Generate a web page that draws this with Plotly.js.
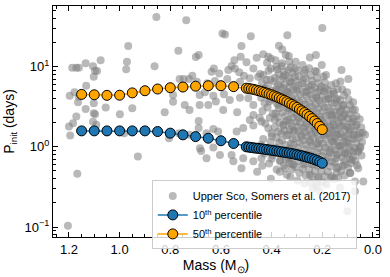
<!DOCTYPE html>
<html>
<head>
<meta charset="utf-8">
<script src="https://cdn.plot.ly/plotly-3.0.1.min.js"></script>
<style>html,body{margin:0;padding:0;background:#fff;}#chart{width:390px;height:277px;}</style>
</head>
<body>
<div id="chart"></div>
<script>
// Upper Sco sample (Somers et al. 2017): mass (Msun), initial period (days) — sparse part
const scoMass = [
0.855,0.737,0.966,0.768,1.075,0.971,0.688,0.699,1.134,1.187,1.171,1.161,1.105,1.097,1.089,0.862,0.974,1.102,1.132,1.197,
1.178,1.161,1.164,1.102,1.055,1.134,1.102,1.097,0.999,0.95,0.822,0.763,0.747,0.726,0.713,0.695,0.789,0.789,0.743,0.684,
0.684,0.724,1.171,1.184,1.2,1.195,1.105,1.092,0.982,0.805,0.803,0.766,0.724,0.688,0.688,0.678,0.928,1.167,1.204,
0.594,0.584,0.482,0.338,0.519,0.371,0.358,0.433,0.459,0.413,0.403,0.522,0.547,0.499,0.558,0.344,0.330,0.628,0.637,0.607,
0.571,0.545,0.528,0.472,0.403,0.380,0.361,0.334,0.509,0.486,0.575,0.624,0.654,0.604,0.551,0.525,0.453,0.433,0.420,0.387,
0.354,0.328,0.367,0.387,0.338,0.427,0.663,0.630,0.588,0.565,0.525,0.620,0.591,0.650,0.536,0.492,0.472,0.409,0.374,0.347,
0.328,0.387,0.472,0.486,0.440,0.472,0.512,0.538,0.334,0.354,0.328,0.630,0.657,0.611,0.400,0.361,0.683,0.630,0.604,0.558,
0.657,0.512,0.472,0.440,0.400,0.367,0.334,0.321,0.347,0.367,0.457,0.403,0.519,0.551,
0.200,0.249,0.225,0.124,0.097,0.185,0.222,0.268,0.308,0.189,0.156,0.176,0.143,0.117,0.080,0.130,0.163,0.117,0.078,0.156,
0.130,0.097,0.064,0.051,0.031,0.078,0.110,0.143,0.170,0.156,0.130,0.097,0.051,0.078,0.110,0.143,0.170,0.084,0.058,0.110,
0.143,0.163,0.137,0.091,0.038,0.071,0.130,0.183,0.222,0.216,0.071,0.101,0.249,
0.308,0.275,0.242,0.209,0.301,0.262,0.222,0.314,0.288,0.249,0.209,0.301,0.268,0.229,0.196,0.314,0.281,0.249,0.216,0.314,
0.196,0.235,0.275,0.314
];
const scoPeriod = [
41.6,37.8,18.0,15.7,12.0,11.5,13.9,13.2,11.0,9.66,9.66,9.66,10.1,8.87,8.8,10.1,9.23,7.47,5.78,4.34,
4.78,4.21,3.59,3.49,3.08,2.96,2.62,2.55,2.55,3.03,2.70,7.0,7.0,7.0,7.69,6.47,4.43,3.65,3.32,4.43,
3.32,2.88,2.38,1.97,1.79,1.38,2.06,1.88,1.48,1.28,1.41,1.48,1.41,2.10,1.71,0.89,0.76,0.46,0.104,
25.8,25.1,23.9,24.6,18.0,18.2,16.3,14.2,12.9,13.3,12.6,13.3,12.0,11.3,10.2,13.9,11.5,9.49,8.63,8.22,
9.05,9.49,8.47,9.49,9.49,9.95,10.2,9.05,7.69,7.13,7.0,6.61,6.18,6.01,5.89,6.49,7.48,7.84,6.79,7.26,
7.48,6.49,5.62,4.87,4.78,5.36,4.78,4.34,4.51,3.84,4.10,3.66,2.88,3.33,2.70,4.03,3.33,3.66,3.33,3.66,
3.02,2.16,2.50,2.16,2.07,1.84,1.71,1.55,2.16,1.88,1.63,1.67,1.48,1.55,1.48,1.48,0.96,0.98,0.79,0.79,
0.72,0.72,0.66,0.72,0.71,0.66,0.72,0.61,0.54,0.49,0.49,0.40,0.54,0.66,
30.3,13.0,13.9,9.05,7.0,7.84,8.63,9.05,9.49,5.36,4.86,4.03,3.84,3.33,2.88,2.75,2.50,2.38,2.27,1.88,
1.79,1.71,1.88,1.48,1.41,1.41,1.34,1.41,1.48,1.16,1.01,1.11,0.96,0.87,0.83,0.79,0.87,0.69,0.54,0.60,
0.54,0.43,0.41,0.47,0.37,0.37,0.31,0.34,0.32,0.41,0.28,0.157,0.45,
7.48,6.79,5.89,5.10,5.36,4.87,4.03,3.66,3.02,2.50,2.16,2.07,1.79,1.63,1.48,1.55,1.34,1.22,1.11,1.06,
0.66,0.60,0.60,0.60
];
// Upper Sco sample — dense low-mass cloud, [mass, period]
const scoDense = [
[0.445,8.1],[0.438,6.3],[0.432,5.2],[0.441,4.1],[0.428,3.5],[0.436,2.8],[0.447,2.3],[0.425,1.95],[0.433,1.25],[0.442,1.05],[0.429,0.82],[0.437,0.58],
[0.418,11.2],[0.412,8.9],[0.405,6.9],[0.415,5.8],[0.398,5.0],[0.409,4.3],[0.402,3.9],[0.416,3.1],[0.395,2.6],[0.407,2.3],[0.413,1.7],[0.399,1.35],[0.404,1.15],[0.417,0.93],[0.396,0.78],[0.41,0.62],
[0.385,12.0],[0.378,9.2],[0.372,8.0],[0.389,6.5],[0.375,5.9],[0.382,5.2],[0.369,4.6],[0.386,4.0],[0.379,3.5],[0.371,3.0],[0.384,2.6],[0.376,2.35],[0.368,2.0],[0.387,1.75],[0.373,1.55],[0.381,1.3],[0.37,1.12],[0.383,0.98],[0.374,0.85],[0.366,0.68],[0.38,0.52],
[0.358,11.0],[0.352,8.7],[0.346,7.8],[0.36,6.9],[0.349,6.0],[0.355,5.4],[0.342,4.9],[0.357,4.4],[0.345,3.9],[0.351,3.4],[0.34,3.05],[0.356,2.7],[0.347,2.4],[0.343,2.1],[0.354,1.85],[0.348,1.6],[0.341,1.38],[0.359,1.2],[0.344,1.05],[0.35,0.9],[0.357,0.8],[0.343,0.7],[0.352,0.58],[0.34,0.45],
[0.332,13.5],[0.325,9.8],[0.318,8.3],[0.333,7.2],[0.322,6.3],[0.328,5.6],[0.315,5.1],[0.33,4.6],[0.319,4.1],[0.326,3.7],[0.313,3.3],[0.331,2.9],[0.321,2.6],[0.316,2.3],[0.327,2.0],[0.32,1.8],[0.312,1.6],[0.334,1.4],[0.317,1.25],[0.324,1.1],[0.329,0.95],[0.314,0.85],[0.323,0.74],[0.33,0.63],[0.318,0.52],[0.326,0.42],
[0.305,11.5],[0.298,9.0],[0.292,7.6],[0.306,6.6],[0.295,5.8],[0.301,5.0],[0.288,4.5],[0.303,4.0],[0.291,3.6],[0.297,3.2],[0.285,2.85],[0.302,2.55],[0.294,2.3],[0.289,2.0],[0.299,1.78],[0.293,1.58],[0.286,1.42],[0.304,1.28],[0.29,1.12],[0.296,0.98],[0.3,0.86],[0.287,0.76],[0.295,0.66],[0.305,0.56],[0.29,0.47],[0.298,0.38],
[0.278,10.5],[0.272,8.4],[0.265,7.1],[0.28,6.2],[0.268,5.5],[0.275,4.8],[0.262,4.3],[0.277,3.8],[0.266,3.4],[0.271,3.0],[0.26,2.7],[0.279,2.45],[0.269,2.2],[0.263,1.95],[0.274,1.72],[0.267,1.52],[0.261,1.36],[0.276,1.2],[0.264,1.06],[0.27,0.93],[0.273,0.82],[0.262,0.71],[0.268,0.62],[0.277,0.53],[0.265,0.44],[0.271,0.35],
[0.252,9.5],[0.246,7.8],[0.24,6.6],[0.254,5.7],[0.243,5.1],[0.249,4.5],[0.237,4.0],[0.251,3.55],[0.241,3.15],[0.247,2.8],[0.235,2.5],[0.253,2.28],[0.244,2.05],[0.238,1.82],[0.25,1.62],[0.242,1.45],[0.236,1.3],[0.248,1.15],[0.239,1.02],[0.245,0.9],[0.25,0.8],[0.237,0.7],[0.243,0.61],[0.252,0.52],[0.24,0.43],[0.246,0.36],[0.238,0.3],
[0.228,8.8],[0.221,7.2],[0.215,6.2],[0.229,5.4],[0.218,4.8],[0.224,4.2],[0.212,3.75],[0.226,3.35],[0.216,3.0],[0.222,2.65],[0.21,2.38],[0.227,2.15],[0.219,1.92],[0.213,1.72],[0.225,1.52],[0.217,1.36],[0.211,1.22],[0.223,1.08],[0.214,0.96],[0.22,0.85],[0.226,0.76],[0.212,0.67],[0.218,0.58],[0.228,0.5],[0.215,0.42],[0.222,0.35],[0.21,0.28],
[0.202,10.5],[0.195,7.5],[0.19,6.4],[0.204,5.6],[0.193,4.9],[0.199,4.3],[0.187,3.85],[0.201,3.45],[0.191,3.1],[0.197,2.75],[0.185,2.45],[0.203,2.2],[0.194,1.98],[0.188,1.76],[0.2,1.56],[0.192,1.4],[0.186,1.25],[0.198,1.1],[0.189,0.98],[0.196,0.87],[0.2,0.77],[0.187,0.68],[0.193,0.59],[0.203,0.5],[0.19,0.43],[0.197,0.36],
[0.165,5.9],[0.179,5.1],[0.168,4.5],[0.174,3.95],[0.162,3.5],[0.176,3.1],[0.166,2.8],[0.172,2.5],[0.16,2.25],[0.177,2.02],[0.169,1.82],[0.163,1.62],[0.175,1.45],[0.167,1.3],[0.161,1.17],[0.173,1.04],[0.164,0.93],[0.17,0.83],[0.176,0.74],[0.162,0.65],[0.168,0.57],[0.178,0.49],[0.165,0.41],
[0.146,6.2],[0.14,5.2],[0.154,4.6],[0.143,4.0],[0.149,3.5],[0.137,3.1],[0.151,2.75],[0.141,2.45],[0.147,2.2],[0.135,1.98],[0.153,1.78],[0.144,1.6],[0.138,1.43],[0.15,1.28],[0.142,1.14],[0.136,1.02],[0.148,0.91],[0.139,0.81],[0.145,0.72],[0.151,0.64],[0.137,0.56],[0.143,0.48],[0.153,0.4],
[0.128,6.5],[0.121,5.2],[0.115,4.4],[0.129,3.8],[0.118,3.3],[0.124,2.9],[0.112,2.55],[0.126,2.3],[0.116,2.05],[0.122,1.83],[0.11,1.63],[0.127,1.46],[0.119,1.3],[0.113,1.17],[0.125,1.04],[0.117,0.93],[0.111,0.83],[0.123,0.74],[0.114,0.66],[0.12,0.58],[0.126,0.5],[0.112,0.44],
[0.102,4.8],[0.096,3.9],[0.09,3.3],[0.104,2.9],[0.093,2.55],[0.099,2.25],[0.087,2.0],[0.101,1.78],[0.091,1.6],[0.097,1.42],[0.085,1.27],[0.103,1.13],[0.094,1.0],[0.088,0.9],[0.1,0.8],[0.092,0.71],[0.086,0.63],[0.098,0.55],[0.089,0.47],
[0.078,3.6],[0.071,2.9],[0.065,2.4],[0.079,2.05],[0.068,1.8],[0.074,1.58],[0.062,1.4],[0.076,1.25],[0.066,1.1],[0.072,0.97],[0.06,0.86],[0.077,0.76],[0.069,0.67],[0.063,0.59],
[0.052,2.2],[0.046,1.75],[0.04,1.5],[0.055,1.3],[0.043,1.15],[0.049,1.0],[0.057,0.9],[0.045,0.78]
];

// Model percentiles
const pctMass = [1.15,1.10,1.05,1.00,0.95,0.90,0.85,0.80,0.75,0.70,0.65,0.60,0.55,
0.50,0.49,0.48,0.47,0.46,0.45,0.44,0.43,0.42,0.41,0.40,0.39,0.38,0.37,0.36,0.35,0.34,0.33,0.32,0.31,0.30,
0.29,0.28,0.27,0.26,0.25,0.24,0.23,0.22,0.21,0.20];
const p10 = [1.58,1.58,1.58,1.58,1.58,1.58,1.55,1.48,1.41,1.34,1.28,1.19,1.10,
1.00,0.99,0.98,0.97,0.96,0.955,0.945,0.935,0.925,0.915,0.905,0.895,0.885,0.875,0.865,0.855,0.845,0.835,0.823,0.811,0.798,
0.785,0.771,0.757,0.742,0.727,0.711,0.693,0.674,0.651,0.625];
const p50 = [4.50,4.45,4.38,4.40,4.70,5.00,5.25,5.45,5.56,5.70,5.77,5.77,5.62,
5.38,5.33,5.26,5.18,5.09,4.99,4.89,4.78,4.67,4.56,4.44,4.32,4.19,4.06,3.93,3.80,3.66,3.52,3.38,3.24,3.10,
2.95,2.81,2.67,2.53,2.39,2.25,2.10,1.95,1.80,1.64];

const xTicks = [1.2,1.0,0.8,0.6,0.4,0.2,0.0];
const yTickVals = [0.1,1,10];
const yTickText = ['10<sup>−1</sup>','10<sup>0</sup>','10<sup>1</sup>'];
const minorY = [0.08,0.09,0.2,0.3,0.4,0.5,0.6,0.7,0.8,0.9,2,3,4,5,6,7,8,9,20,30,40,50];

const allMass = scoMass.concat(scoDense.map(d => d[0]));
const allPeriod = scoPeriod.concat(scoDense.map(d => d[1]));

const font = 'Liberation Sans, Arial, Helvetica, sans-serif';
const data = [
  {x: allMass, y: allPeriod, mode: 'markers', type: 'scatter', name: 'Upper Sco, Somers et al. (2017)',
   marker: {color: 'rgba(128,128,128,0.55)', size: 8, line: {width: 0}}},
  {x: pctMass, y: p10, mode: 'lines+markers', type: 'scatter', name: '10<sup>th</sup> percentile',
   line: {color: '#1f77b4', width: 1.5},
   marker: {color: '#1f77b4', size: 10, line: {color: '#000', width: 1}}},
  {x: pctMass, y: p50, mode: 'lines+markers', type: 'scatter', name: '50<sup>th</sup> percentile',
   line: {color: '#ffa500', width: 1.5},
   marker: {color: '#ffa500', size: 10, line: {color: '#000', width: 1}}}
];

const layout = {
  width: 390, height: 277,
  margin: {l: 53, r: 11, t: 5.5, b: 40, pad: 0},
  paper_bgcolor: '#fff', plot_bgcolor: '#fff',
  font: {family: font, color: '#000', size: 13},
  showlegend: true,
  legend: {x: 0.303, y: 0.245, xanchor: 'left', yanchor: 'top',
    bgcolor: 'rgba(255,255,255,0.8)', bordercolor: '#cccccc', borderwidth: 1,
    font: {family: font, size: 11, color: '#000'}, tracegroupgap: 0, itemwidth: 30},
  xaxis: {
    range: [1.263, -0.024], tickmode: 'array', tickvals: xTicks, tickformat: '.1f',
    ticks: 'inside', ticklen: 5, tickwidth: 1, tickcolor: '#000',
    showline: true, linecolor: '#000', linewidth: 1, mirror: 'allticks',
    showgrid: false, zeroline: false,
    tickfont: {size: 13},
    minor: {dtick: 0.05, tick0: 0, ticks: 'inside', ticklen: 3, tickwidth: 1, tickcolor: '#000', showgrid: false},
    title: {text: 'Mass (M<sub>⊙</sub>)', font: {size: 14}, standoff: 3}
  },
  yaxis: {
    type: 'log', range: [-1.124, 1.755], tickmode: 'array', tickvals: yTickVals, ticktext: yTickText,
    ticks: 'inside', ticklen: 5, tickwidth: 1, tickcolor: '#000',
    showline: true, linecolor: '#000', linewidth: 1, mirror: 'allticks',
    showgrid: false, zeroline: false,
    tickfont: {size: 13},
    minor: {tickmode: 'array', tickvals: minorY, ticks: 'inside', ticklen: 3, tickwidth: 1, tickcolor: '#000', showgrid: false},
    title: {text: 'P<sub>init</sub> (days)', font: {size: 14}, standoff: 6}
  }
};

Plotly.newPlot('chart', data, layout, {displayModeBar: false, staticPlot: true});
</script>
</body>
</html>
